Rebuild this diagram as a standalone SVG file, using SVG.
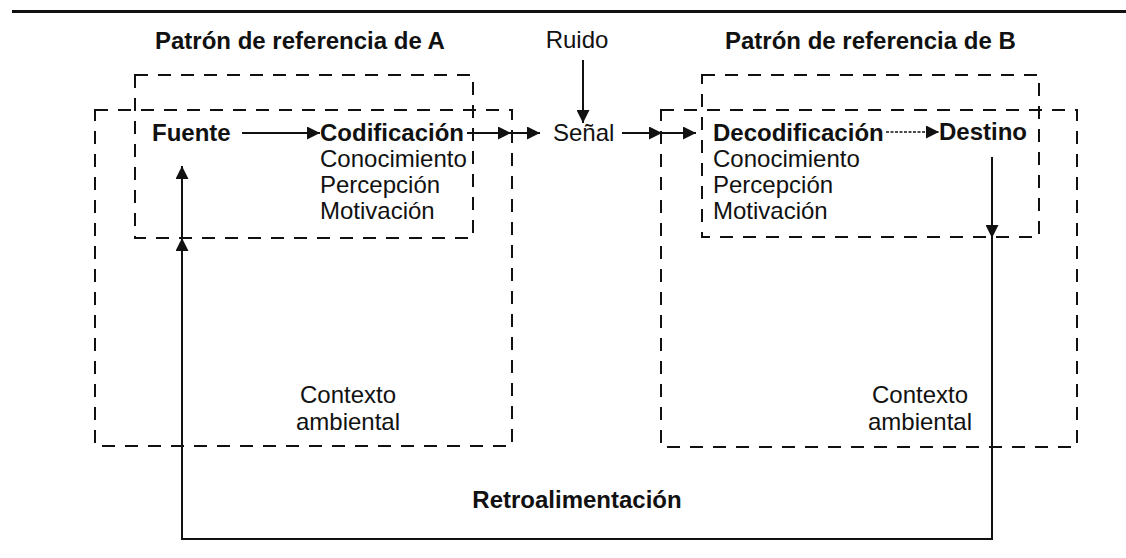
<svg xmlns="http://www.w3.org/2000/svg" width="1126" height="558" viewBox="0 0 1126 558">
<style>
text{font-family:"Liberation Sans",Arial,Helvetica,sans-serif;font-size:24px;fill:#111}
.b{font-weight:bold}
.m{text-anchor:middle}
.box{fill:none;stroke:#111;stroke-width:2;stroke-dasharray:13 10}
.ln{fill:none;stroke:#111;stroke-width:2}
.arr{fill:none;stroke:#111;stroke-width:2;marker-end:url(#ah)}
</style>
<defs>
<marker id="ah" markerUnits="userSpaceOnUse" markerWidth="13" markerHeight="13" refX="13" refY="6.5" orient="auto">
<path d="M0,0 L13,6.5 L0,13 z" fill="#111"/>
</marker>
</defs>
<rect width="1126" height="558" fill="#fff"/>
<rect x="12" y="10" width="1114" height="3" fill="#111"/>

<g id="context-A">
<rect class="box" x="95" y="110" width="417" height="336"/>
<text class="m" x="348" y="403">Contexto</text>
<text class="m" x="348" y="430">ambiental</text>
</g>
<g id="frame-A">
<rect class="box" x="135" y="75" width="338" height="163"/>
<text class="b" x="155" y="49">Patrón de referencia de A</text>
</g>
<g id="fuente"><text class="b" x="152" y="141">Fuente</text></g>
<g id="codificacion">
<text class="b" x="320" y="141">Codificación</text>
<text x="320" y="167">Conocimiento</text>
<text x="320" y="193">Percepción</text>
<text x="320" y="219">Motivación</text>
</g>
<g id="ruido"><text class="m" x="577" y="48">Ruido</text></g>
<g id="senal"><text x="553" y="141">Señal</text></g>
<g id="context-B">
<rect class="box" x="661" y="110" width="416" height="337"/>
<text class="m" x="920" y="403">Contexto</text>
<text class="m" x="920" y="430">ambiental</text>
</g>
<g id="frame-B">
<rect class="box" x="702" y="75" width="337" height="162"/>
<text class="b" x="725" y="49">Patrón de referencia de B</text>
</g>
<g id="decodificacion">
<text class="b" x="713" y="141">Decodificación</text>
<text x="713" y="167">Conocimiento</text>
<text x="713" y="193">Percepción</text>
<text x="713" y="219">Motivación</text>
</g>
<g id="destino"><text class="b" x="939" y="140">Destino</text></g>
<g id="retro"><text class="b m" x="577" y="508">Retroalimentación</text></g>

<g id="connectors">
<line class="arr" x1="242" y1="133" x2="320" y2="133"/>
<line class="arr" x1="467" y1="133" x2="511" y2="133"/>
<line class="arr" x1="511" y1="133" x2="540" y2="133"/>
<line class="arr" x1="583" y1="60" x2="583" y2="123"/>
<line class="arr" x1="622" y1="133" x2="662" y2="133"/>
<line class="arr" x1="662" y1="133" x2="696" y2="133"/>
<line class="arr" x1="886" y1="132" x2="939" y2="132" style="stroke-width:1.5;stroke-dasharray:3 1.5"/>
<line class="arr" x1="992" y1="157" x2="992" y2="238"/>
<polyline class="ln" points="992,236 992,539 182,539 182,250"/>
<line class="arr" x1="182" y1="252" x2="182" y2="238"/>
<line class="arr" x1="182" y1="238" x2="182" y2="166"/>
</g>
</svg>
